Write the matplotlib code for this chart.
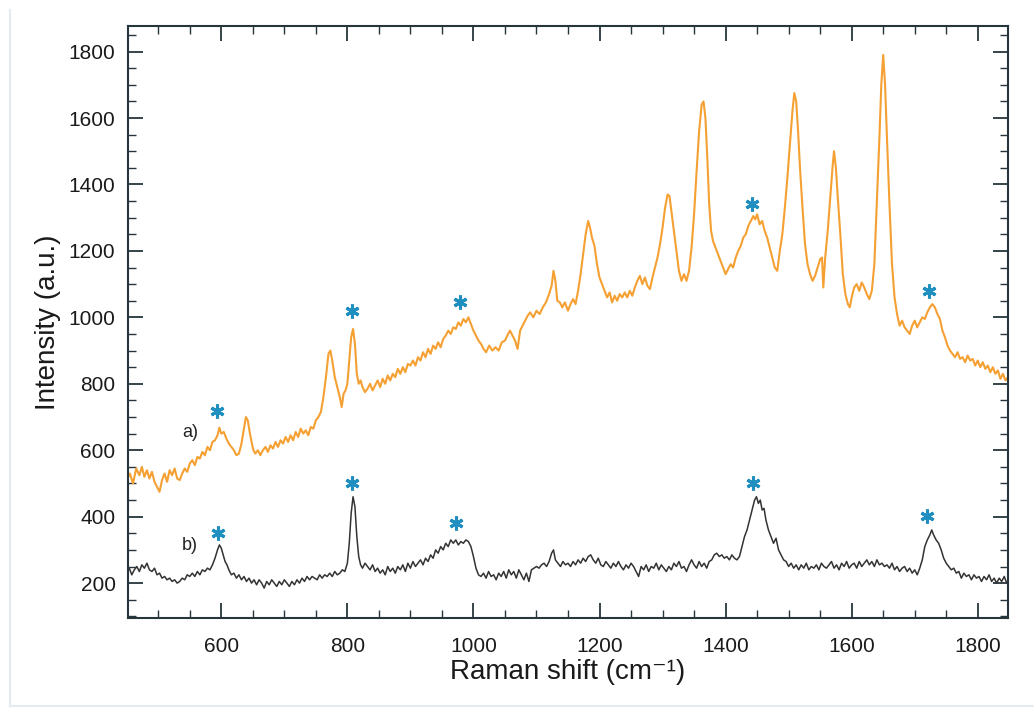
import matplotlib
matplotlib.use("Agg")
import matplotlib.pyplot as plt
from matplotlib.lines import Line2D
from matplotlib.ticker import MultipleLocator

# spectrum a) (orange) : raman shift / intensity
shift_a = [450, 455, 460, 465, 470, 474, 478, 482, 486, 490, 494, 498, 502, 506, 510, 514, 518, 522, 526, 530,
           534, 538, 542, 546, 550, 554, 558, 562, 566, 570, 574, 578, 582, 586, 590, 594, 597, 600, 604, 608,
           612, 616, 620, 624, 628, 632, 636, 639, 642, 645, 648, 651, 654, 658, 662, 666, 670, 674, 678, 682,
           686, 690, 694, 698, 702, 706, 710, 714, 718, 722, 726, 730, 734, 738, 742, 746, 750, 754, 758, 762,
           766, 770, 773, 776, 780, 784, 788, 791, 794, 797, 800, 803, 806, 809, 812, 815, 818, 821, 824, 828,
           832, 836, 840, 844, 848, 852, 856, 860, 864, 868, 872, 876, 880, 884, 888, 892, 896, 900, 904, 908,
           912, 916, 920, 924, 928, 932, 936, 940, 944, 948, 952, 956, 960, 964, 968, 972, 976, 980, 984, 988,
           992, 996, 1000, 1004, 1008, 1012, 1016, 1020, 1025, 1030, 1035, 1040, 1045, 1050, 1055, 1058, 1062, 1066, 1070, 1074,
           1078, 1082, 1086, 1090, 1095, 1100, 1105, 1110, 1115, 1120, 1124, 1127, 1130, 1133, 1137, 1141, 1145, 1150, 1154, 1158,
           1162, 1166, 1170, 1174, 1178, 1182, 1185, 1188, 1192, 1196, 1200, 1204, 1208, 1212, 1216, 1220, 1224, 1228, 1232, 1236,
           1240, 1244, 1248, 1252, 1256, 1260, 1264, 1268, 1272, 1276, 1280, 1284, 1288, 1292, 1296, 1300, 1304, 1308, 1311, 1314,
           1318, 1322, 1326, 1330, 1334, 1338, 1342, 1346, 1350, 1354, 1358, 1362, 1365, 1368, 1371, 1374, 1377, 1380, 1384, 1388,
           1392, 1396, 1400, 1404, 1408, 1412, 1416, 1420, 1424, 1428, 1432, 1436, 1440, 1444, 1447, 1450, 1454, 1458, 1462, 1466,
           1470, 1474, 1478, 1482, 1486, 1490, 1494, 1498, 1502, 1506, 1509, 1512, 1515, 1518, 1522, 1526, 1530, 1534, 1538, 1542,
           1546, 1550, 1553, 1555, 1558, 1562, 1566, 1570, 1572, 1575, 1578, 1582, 1586, 1590, 1594, 1597, 1600, 1604, 1608, 1612,
           1616, 1620, 1624, 1628, 1632, 1636, 1640, 1644, 1647, 1650, 1653, 1656, 1660, 1664, 1668, 1672, 1676, 1680, 1684, 1688,
           1692, 1696, 1700, 1704, 1708, 1712, 1716, 1720, 1724, 1728, 1732, 1736, 1740, 1744, 1748, 1752, 1756, 1760, 1764, 1768,
           1772, 1776, 1780, 1784, 1788, 1792, 1796, 1800, 1804, 1808, 1812, 1816, 1820, 1824, 1828, 1832, 1836, 1840, 1844, 1848]
int_a = [510, 530, 500, 545, 525, 550, 520, 540, 515, 535, 505, 490, 475, 510, 530, 505, 540, 525, 545, 515,
         510, 530, 545, 535, 560, 570, 555, 580, 575, 595, 585, 610, 600, 625, 630, 645, 668, 650, 655, 635,
         620, 610, 600, 585, 590, 620, 665, 700, 690, 655, 625, 600, 590, 600, 585, 600, 610, 595, 615, 605,
         625, 610, 630, 620, 640, 625, 645, 630, 655, 640, 665, 650, 660, 645, 670, 665, 690, 700, 715, 760,
         820, 890, 900, 870, 820, 790, 760, 730, 770, 780, 800, 870, 940, 965, 920, 830, 800, 810, 790, 775,
         785, 800, 780, 795, 810, 790, 815, 800, 825, 810, 830, 820, 845, 830, 850, 835, 860, 855, 870, 855,
         880, 870, 895, 880, 905, 890, 915, 905, 925, 910, 935, 945, 960, 950, 970, 965, 985, 975, 995, 985,
         1000, 980, 960, 945, 930, 920, 905, 895, 915, 900, 910, 900, 925, 930, 950, 960, 945, 930, 905, 960,
         975, 990, 1005, 1015, 1000, 1020, 1010, 1030, 1045, 1070, 1095, 1140, 1110, 1050, 1045, 1030, 1045, 1020, 1040, 1055,
         1040, 1080, 1130, 1190, 1250, 1290, 1270, 1240, 1215, 1160, 1120, 1100, 1080, 1060, 1075, 1045, 1065, 1050, 1070, 1060,
         1075, 1060, 1080, 1065, 1090, 1110, 1125, 1100, 1120, 1095, 1085, 1120, 1150, 1180, 1220, 1270, 1330, 1370, 1365, 1320,
         1260, 1200, 1140, 1110, 1130, 1110, 1140, 1210, 1310, 1440, 1560, 1640, 1650, 1600, 1480, 1340, 1260, 1230, 1210, 1190,
         1170, 1150, 1130, 1145, 1160, 1150, 1180, 1200, 1215, 1240, 1250, 1275, 1290, 1305, 1295, 1310, 1280, 1290, 1260, 1240,
         1210, 1180, 1150, 1140, 1200, 1250, 1330, 1420, 1520, 1620, 1675, 1650, 1560, 1450, 1330, 1220, 1160, 1130, 1110, 1125,
         1150, 1175, 1180, 1090, 1180, 1260, 1360, 1460, 1500, 1450, 1360, 1250, 1130, 1070, 1040, 1030, 1060, 1090, 1100, 1080,
         1105, 1090, 1070, 1055, 1080, 1160, 1350, 1540, 1700, 1790, 1700, 1540, 1340, 1160, 1060, 1010, 975, 990, 970, 960,
         950, 975, 990, 970, 985, 1000, 995, 1015, 1030, 1040, 1030, 1010, 995, 960, 940, 915, 900, 890, 880, 895,
         875, 880, 865, 885, 870, 875, 855, 870, 850, 865, 845, 855, 835, 850, 830, 840, 815, 830, 810, 820]

# spectrum b) (black)
shift_b = [450, 454, 458, 462, 466, 470, 474, 478, 482, 486, 490, 494, 498, 502, 506, 510, 514, 518, 522, 526,
           530, 534, 538, 542, 546, 550, 554, 558, 562, 566, 570, 574, 578, 582, 586, 590, 594, 597, 600, 603,
           606, 609, 612, 616, 620, 624, 628, 632, 636, 640, 644, 648, 652, 656, 660, 664, 668, 672, 676, 680,
           684, 688, 692, 696, 700, 704, 708, 712, 716, 720, 724, 728, 732, 736, 740, 744, 748, 752, 756, 760,
           764, 768, 772, 776, 780, 784, 788, 792, 796, 800, 803, 806, 809, 812, 815, 818, 821, 824, 828, 832,
           836, 840, 844, 848, 852, 856, 860, 864, 868, 872, 876, 880, 884, 888, 892, 896, 900, 904, 908, 912,
           916, 920, 924, 928, 932, 936, 940, 944, 948, 952, 956, 960, 964, 968, 972, 976, 980, 984, 988, 992,
           996, 1000, 1004, 1008, 1012, 1016, 1020, 1024, 1028, 1032, 1036, 1040, 1044, 1048, 1052, 1056, 1060, 1064, 1068, 1072,
           1076, 1080, 1084, 1088, 1092, 1096, 1100, 1104, 1108, 1112, 1116, 1120, 1124, 1127, 1130, 1134, 1138, 1142, 1146, 1150,
           1154, 1158, 1162, 1166, 1170, 1174, 1178, 1182, 1186, 1190, 1194, 1198, 1202, 1206, 1210, 1214, 1218, 1222, 1226, 1230,
           1234, 1238, 1242, 1246, 1250, 1254, 1258, 1262, 1266, 1270, 1274, 1278, 1282, 1286, 1290, 1294, 1298, 1302, 1306, 1310,
           1314, 1318, 1322, 1326, 1330, 1334, 1338, 1342, 1346, 1350, 1354, 1358, 1362, 1366, 1370, 1374, 1378, 1382, 1386, 1390,
           1394, 1398, 1402, 1406, 1410, 1414, 1418, 1422, 1426, 1430, 1434, 1438, 1442, 1446, 1449, 1452, 1455, 1458, 1461, 1464,
           1468, 1472, 1476, 1480, 1484, 1488, 1492, 1496, 1500, 1504, 1508, 1512, 1516, 1520, 1524, 1528, 1532, 1536, 1540, 1544,
           1548, 1552, 1556, 1560, 1564, 1568, 1572, 1576, 1580, 1584, 1588, 1592, 1596, 1600, 1604, 1608, 1612, 1616, 1620, 1624,
           1628, 1632, 1636, 1640, 1644, 1648, 1652, 1656, 1660, 1664, 1668, 1672, 1676, 1680, 1684, 1688, 1692, 1696, 1700, 1704,
           1708, 1712, 1716, 1720, 1724, 1727, 1730, 1734, 1738, 1742, 1746, 1750, 1754, 1758, 1762, 1766, 1770, 1774, 1778, 1782,
           1786, 1790, 1794, 1798, 1802, 1806, 1810, 1814, 1818, 1822, 1826, 1830, 1834, 1838, 1842, 1846, 1850]
int_b = [230, 245, 225, 240, 250, 235, 255, 245, 260, 240, 235, 245, 225, 230, 215, 220, 210, 215, 205, 210,
         200, 205, 215, 210, 225, 220, 230, 220, 235, 225, 240, 235, 245, 240, 255, 275, 300, 315, 305, 285,
         265, 255, 240, 225, 230, 215, 225, 210, 220, 205, 215, 200, 210, 195, 210, 200, 185, 205, 195, 210,
         200, 190, 205, 195, 210, 200, 190, 205, 195, 210, 200, 215, 205, 220, 210, 220, 215, 210, 225, 215,
         225, 220, 230, 220, 235, 225, 230, 240, 235, 260, 320, 410, 460, 430, 340, 280, 255, 245, 260, 250,
         240, 255, 235, 245, 230, 240, 225, 250, 235, 245, 230, 250, 240, 255, 235, 260, 245, 265, 250, 260,
         270, 255, 275, 265, 285, 275, 300, 290, 310, 300, 320, 310, 330, 320, 330, 315, 325, 320, 330, 325,
         310, 280, 245, 225, 220, 230, 215, 235, 220, 225, 210, 230, 220, 235, 215, 240, 225, 235, 215, 240,
         225, 210, 230, 205, 240, 245, 250, 245, 255, 260, 250, 265, 290, 300, 270, 260, 250, 265, 255, 260,
         250, 265, 255, 270, 260, 275, 265, 280, 285, 270, 260, 275, 255, 250, 265, 255, 245, 260, 250, 265,
         250, 240, 255, 245, 260, 250, 235, 220, 250, 240, 255, 235, 250, 245, 260, 240, 255, 245, 235, 250,
         240, 260, 250, 265, 245, 250, 235, 255, 270, 255, 245, 265, 250, 260, 245, 265, 270, 285, 290, 280,
         285, 275, 280, 270, 285, 275, 270, 280, 310, 340, 360, 390, 420, 450, 460, 440, 450, 420, 425, 390,
         360, 340, 320, 335, 300, 285, 270, 265, 250, 260, 245, 255, 240, 255, 245, 260, 240, 250, 245, 255,
         240, 260, 250, 245, 255, 265, 245, 255, 240, 260, 250, 265, 245, 255, 260, 245, 265, 250, 260, 270,
         255, 265, 250, 270, 255, 260, 250, 255, 245, 260, 240, 250, 235, 245, 250, 235, 245, 230, 240, 225,
         245, 270, 310, 330, 345, 360, 345, 330, 320, 300, 275, 260, 250, 240, 245, 230, 235, 215, 230, 220,
         225, 210, 225, 215, 220, 205, 220, 210, 225, 205, 215, 200, 215, 205, 220, 200, 215]

# asterisks marking the shared bands
star_x_a = [593, 807, 979, 1442, 1723]
star_y_a = [718, 1019, 1046, 1341, 1079]
star_x_b = [594, 807, 972, 1444, 1720]
star_y_b = [350, 502, 380, 500, 402]

plt.rcParams['font.family'] = ['Liberation Sans', 'DejaVu Sans']
frame_col = "#26363c"

fig = plt.figure(figsize=(10.34, 7.08), dpi=100)
ax = fig.add_axes([128 / 1034, 90 / 708, 880 / 1034, 592 / 708])

ax.plot(shift_a, int_a, color="#f5a033", lw=1.5)
ax.plot(shift_b, int_b, color="#333333", lw=1.1)

ax.plot(star_x_a + star_x_b, star_y_a + star_y_b, ls="none", marker=(6, 2, 0),
        ms=10, mew=2.2, color="#1f8fbf")

ax.text(550, 654, "a)", fontsize=13, ha="center", va="center", color="#222222")
ax.text(550, 312, "b)", fontsize=13, ha="center", va="center", color="#222222")

ax.set_xlim(452, 1848)
ax.set_ylim(95, 1877)
ax.xaxis.set_major_locator(MultipleLocator(200))
ax.xaxis.set_minor_locator(MultipleLocator(50))
ax.yaxis.set_major_locator(MultipleLocator(200))
ax.yaxis.set_minor_locator(MultipleLocator(50))

ax.tick_params(which="both", direction="in", top=True, right=True, color=frame_col,
               labelsize=15, labelcolor="#1a1a1a")
ax.tick_params(which="major", length=11, width=1.3)
ax.tick_params(which="minor", length=5.5, width=1.0)
ax.tick_params(axis="y", pad=9)
ax.tick_params(axis="x", pad=14)
for sp in ax.spines.values():
    sp.set_color(frame_col)
    sp.set_linewidth(1.5)

ax.set_xlabel("Raman shift (cm\u207b\u00b9)", fontsize=20, color="#1a1a1a")
ax.set_ylabel("Intensity (a.u.)", fontsize=20, color="#1a1a1a")
ax.xaxis.set_label_coords(0.5, -0.07)
ax.yaxis.set_label_coords(-0.076, 0.5)

# faint page border
fig.add_artist(Line2D([10 / 1034, 10 / 1034], [1 - 10 / 708, 2 / 708], color="#e4ebf0", lw=1.5))
fig.add_artist(Line2D([10 / 1034, 1.0], [2 / 708, 2 / 708], color="#e4ebf0", lw=1.5))

fig.savefig("out.png", dpi=100)
